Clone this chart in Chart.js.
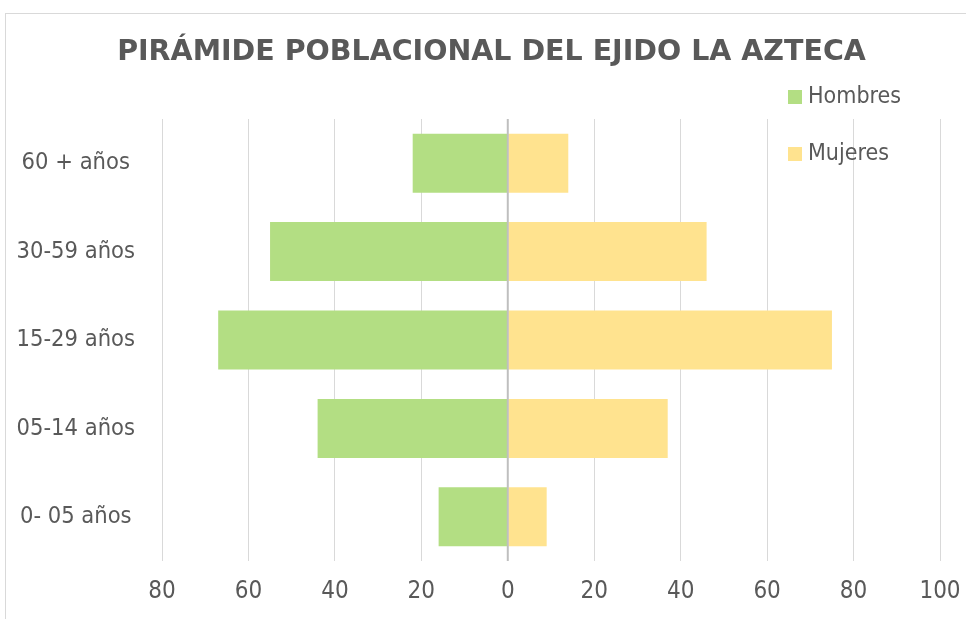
<!DOCTYPE html>
<html>
<head>
<meta charset="utf-8">
<script src="https://cdn.jsdelivr.net/npm/chart.js@4"></script>
<style>
html,body{margin:0;padding:0;overflow:hidden;background:#fff;}
#wrap{position:absolute;left:0;top:0;width:983px;height:619px;}
</style>
</head>
<body>
<div id="wrap"><canvas id="c" width="983" height="619"></canvas></div>
<script>
const categories = ["60 + años", "30-59 años", "15-29 años", "05-14 años", "0- 05 años"];
const hombres = [22, 55, 67, 44, 16];
const mujeres = [14, 46, 75, 37, 9];
const seriesNames = ["Hombres", "Mujeres"];
const seriesColors = ["#b3de83", "#ffe38f"];
const chartTitle = "PIRÁMIDE POBLACIONAL DEL EJIDO LA AZTECA";

const FONT = "'DejaVu Sans Condensed', 'DejaVu Sans', sans-serif";
const TFONT = "'DejaVu Sans', sans-serif";
const TXT = "#595959";

const framePlugin = {
  id: 'frame',
  beforeDraw(chart) {
    const ctx = chart.ctx;
    ctx.save();
    ctx.fillStyle = '#fff';
    ctx.fillRect(0, 0, chart.width, chart.height);
    ctx.strokeStyle = '#d9d9d9';
    ctx.lineWidth = 1;
    ctx.strokeRect(5.5, 13.5, chart.width + 50, chart.height + 50);
    ctx.restore();
  }
};

const zeroLinePlugin = {
  id: 'zeroLine',
  afterDatasetsDraw(chart) {
    const x = chart.scales.x.getPixelForValue(0);
    const a = chart.chartArea;
    const ctx = chart.ctx;
    ctx.save();
    ctx.strokeStyle = '#bfbfbf';
    ctx.lineWidth = 2;
    ctx.beginPath();
    ctx.moveTo(x, a.top);
    ctx.lineTo(x, a.bottom);
    ctx.stroke();
    ctx.restore();
  }
};

const legendPlugin = {
  id: 'customLegend',
  afterDraw(chart) {
    const ctx = chart.ctx;
    ctx.save();
    ctx.font = "23px " + FONT;
    ctx.textBaseline = 'middle';
    ctx.textAlign = 'left';
    chart.data.datasets.forEach((ds, i) => {
      const y = 97 + i * 57;
      ctx.fillStyle = ds.backgroundColor;
      ctx.fillRect(788, y - 7, 14, 14);
      ctx.fillStyle = TXT;
      ctx.fillText(ds.label, 808, y);
    });
    ctx.restore();
  }
};

new Chart(document.getElementById('c'), {
  type: 'bar',
  data: {
    labels: categories,
    datasets: [
      { label: seriesNames[0], data: hombres.map(v => -v), backgroundColor: seriesColors[0], categoryPercentage: 0.667, barPercentage: 1 },
      { label: seriesNames[1], data: mujeres, backgroundColor: seriesColors[1], categoryPercentage: 0.667, barPercentage: 1 }
    ]
  },
  options: {
    indexAxis: 'y',
    responsive: false,
    animation: false,
    layout: { padding: { left: 0, right: 0, top: 0, bottom: 0 } },
    plugins: {
      legend: { display: false },
      tooltip: { enabled: false },
      title: {
        display: true,
        text: chartTitle,
        color: TXT,
        font: { family: TFONT, size: 28.5, weight: 'bold', lineHeight: 1.2 },
        padding: { top: 35.4, bottom: 49.4 }
      }
    },
    scales: {
      x: {
        stacked: true,
        min: -80,
        max: 100,
        ticks: {
          stepSize: 20,
          color: TXT,
          padding: 16,
          font: { family: FONT, size: 24, lineHeight: 1.2 },
          callback: v => Math.abs(v)
        },
        grid: { color: '#d9d9d9', lineWidth: 1, drawTicks: false },
        border: { display: false },
        afterFit(s) { s.height = 58; }
      },
      y: {
        stacked: true,
        ticks: {
          color: TXT,
          crossAlign: 'center',
          padding: 27,
          font: { family: FONT, size: 23.5, lineHeight: 1.2 }
        },
        grid: { display: false, drawTicks: false },
        border: { display: false },
        afterFit(s) { s.width = 162; }
      },
      yRight: {
        type: 'linear',
        position: 'right',
        display: true,
        ticks: { display: false },
        grid: { display: false, drawTicks: false },
        border: { display: false },
        afterFit(s) { s.width = 43; }
      }
    }
  },
  plugins: [framePlugin, zeroLinePlugin, legendPlugin]
});
</script>
</body>
</html>
